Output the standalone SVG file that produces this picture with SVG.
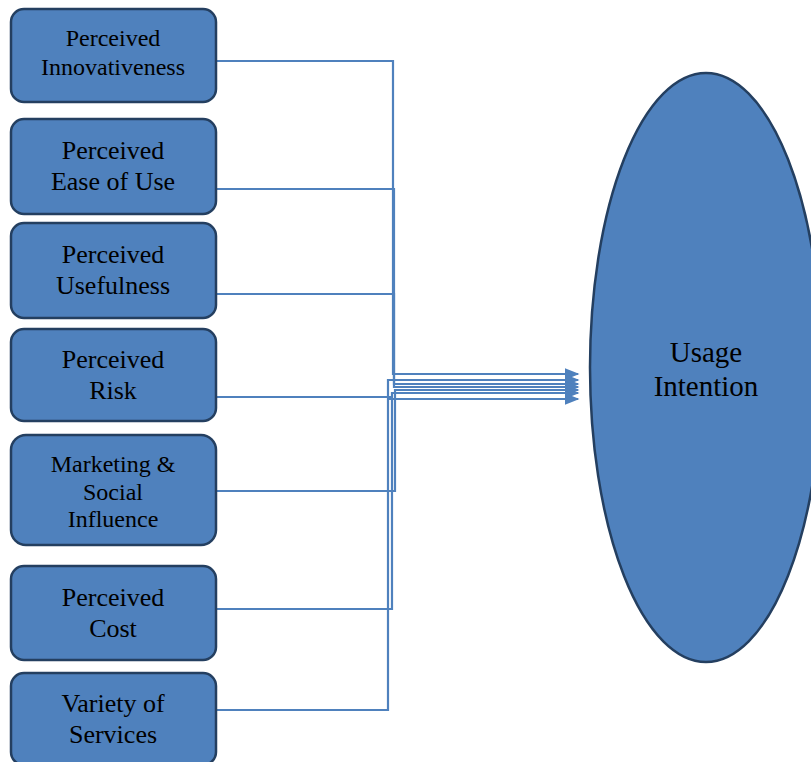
<svg xmlns="http://www.w3.org/2000/svg" width="811" height="762" viewBox="0 0 811 762">
<style>
.box{fill:#4F81BD;stroke:#243F60;stroke-width:2.5}
.t{font-family:"Liberation Serif","Times New Roman",serif;fill:#000;text-anchor:middle}
.s24{font-size:24px}
.s26{font-size:26px}
.s28{font-size:29px}
.c{fill:none;stroke:#4F81BD;stroke-width:2.2;marker-end:url(#ah)}
</style>
<defs>
<marker id="ah" viewBox="0 0 10 10" refX="9" refY="5" markerWidth="15" markerHeight="12" markerUnits="userSpaceOnUse" orient="auto" preserveAspectRatio="none">
<path d="M0,0 L10,5 L0,10 z" fill="#4F81BD"/>
</marker>
</defs>
<rect width="811" height="762" fill="#fff"/>
<g id="connectors">
<path class="c" d="M216,61 H393 V374 H578"/>
<path class="c" d="M216,710 H388 V380 H578"/>
<path class="c" d="M216,189 H394 V384 H578"/>
<path class="c" d="M216,294 H394 V387 H578"/>
<path class="c" d="M216,491 H395 V390 H578"/>
<path class="c" d="M216,609 H392 V393 H578"/>
<path class="c" d="M216,397 H390 V399 H578"/>
</g>
<g id="n1"><rect class="box" x="11" y="9" width="205" height="93" rx="13"/>
<text class="t s24" x="113" y="46">Perceived</text><text class="t s24" x="113" y="75">Innovativeness</text></g>
<g id="n2"><rect class="box" x="11" y="119" width="205" height="95" rx="13"/>
<text class="t s26" x="113" y="159">Perceived</text><text class="t s26" x="113" y="190">Ease of Use</text></g>
<g id="n3"><rect class="box" x="11" y="223" width="205" height="95" rx="13"/>
<text class="t s26" x="113" y="263">Perceived</text><text class="t s26" x="113" y="294">Usefulness</text></g>
<g id="n4"><rect class="box" x="11" y="329" width="205" height="92" rx="13"/>
<text class="t s26" x="113" y="368">Perceived</text><text class="t s26" x="113" y="399">Risk</text></g>
<g id="n5"><rect class="box" x="11" y="435" width="205" height="110" rx="15"/>
<text class="t s24" x="113" y="472">Marketing &amp;</text><text class="t s24" x="113" y="500">Social</text><text class="t s24" x="113" y="527">Influence</text></g>
<g id="n6"><rect class="box" x="11" y="566" width="205" height="94" rx="13"/>
<text class="t s26" x="113" y="606">Perceived</text><text class="t s26" x="113" y="637">Cost</text></g>
<g id="n7"><rect class="box" x="11" y="673" width="205" height="92" rx="13"/>
<text class="t s26" x="113" y="712">Variety of</text><text class="t s26" x="113" y="743">Services</text></g>
<g id="usage"><ellipse class="box" cx="706" cy="367.5" rx="116" ry="294.5"/>
<text class="t s28" x="706" y="362">Usage</text><text class="t s28" x="706" y="396">Intention</text></g>
</svg>
